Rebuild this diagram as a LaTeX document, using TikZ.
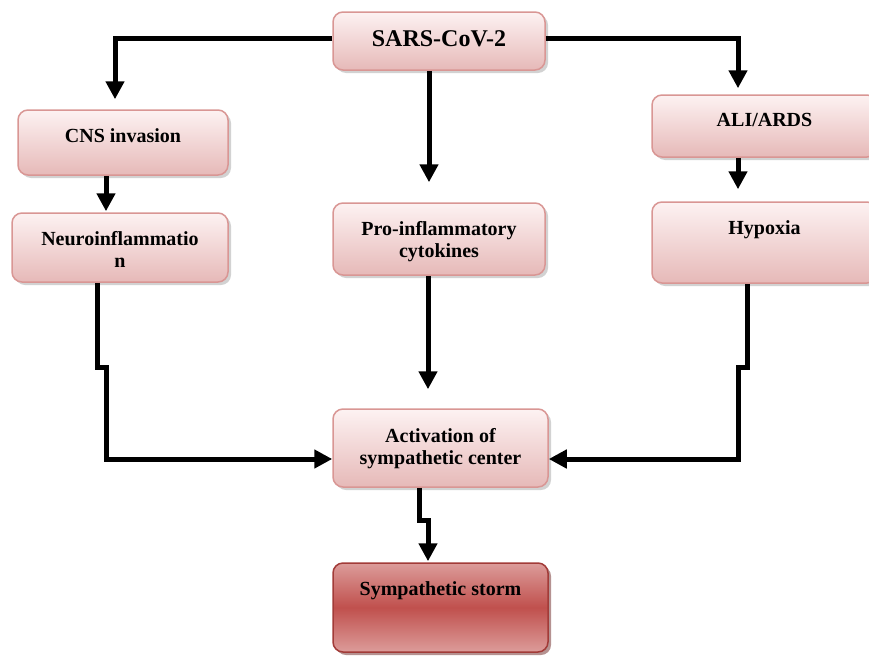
\documentclass[tikz,border=0pt]{standalone}
\usepackage{fontspec}
\setmainfont{Liberation Serif}
\usetikzlibrary{positioning,shadows,arrows.meta}

\definecolor{pinktop}{HTML}{FDF2F2}
\definecolor{pinkbot}{HTML}{E6B9B8}
\definecolor{pinkedge}{HTML}{D99694}
\definecolor{stormtop}{HTML}{DC9C9A}
\definecolor{stormmid}{HTML}{C0504D}
\definecolor{stormedge}{HTML}{A23B38}
\definecolor{stormshade}{HTML}{6B2624}

\begin{document}
\begin{tikzpicture}[x=1pt,y=-1pt]
				\tikzstyle{Box}		= [rounded corners=10pt, line width=1.5pt, inner sep=0pt]
				\tikzstyle{Pink}	= [draw=pinkedge, top color=pinktop, bottom color=pinkbot, drop shadow={shadow xshift=3pt, shadow yshift=-3pt, fill=black!35}]
				\tikzstyle{Red}		= [draw=stormedge, top color=stormtop, bottom color=stormtop, middle color=stormmid, drop shadow={shadow xshift=3pt, shadow yshift=-3pt, fill=stormshade}]
				\tikzstyle{Label}	= [inner sep=0pt, align=center, font=\fontsize{20}{22}\selectfont\bfseries]
				\tikzstyle{Link}	= [line width=5pt, -{Triangle[width=18pt,length=18pt]}]

				\useasboundingbox (0,0) rectangle (869,656);

				\node (sv) at (439, 41) [Box][Pink][minimum width=212pt, minimum height=58pt] {};
				\node [Label, font=\fontsize{24}{26}\selectfont\bfseries, below=19pt of sv.north] {SARS-CoV-2};

				\node (cn) at (123, 142.5) [Box][Pink][minimum width=210pt, minimum height=65pt] {};
				\node [Label, below=19pt of cn.north] {CNS invasion};

				\node (ni) at (120, 247.5) [Box][Pink][minimum width=216pt, minimum height=69pt] {};
				\node [Label, below=19pt of ni.north] {Neuroinflammatio\\n};

				\node (pc) at (439, 239) [Box][Pink][minimum width=212pt, minimum height=72pt] {};
				\node [Label, below=19pt of pc.north] {Pro-inflammatory\\cytokines};

				\node (aa) at (764.5, 126) [Box][Pink][minimum width=225pt, minimum height=62pt] {};
				\node [Label, below=19pt of aa.north] {ALI/ARDS};

				\node (hx) at (764.5, 242.5) [Box][Pink][minimum width=225pt, minimum height=81pt] {};
				\node [Label, below=19pt of hx.north] {Hypoxia};

				\node (as) at (440.5, 448) [Box][Pink][minimum width=215pt, minimum height=78pt] {};
				\node [Label, below=20pt of as.north] {Activation of\\sympathetic center};

				\node (ss) at (440.5, 607.5) [Box][Red][minimum width=215pt, minimum height=89pt] {};
				\node [Label, below=19pt of ss.north] {Sympathetic storm};

				% from the virus
				\draw [Link, shorten >=10pt] ([yshift=3pt]sv.west) -| ([xshift=-8pt]cn.north);
				\draw [Link, shorten >=6pt] ([yshift=3pt]sv.east) -| ([xshift=-26.5pt]aa.north);
				\draw [Link, shorten >=20pt] ([xshift=-10pt]sv.south) -- ([xshift=-10pt]pc.north);

				\draw [Link, shorten >=1pt] ([xshift=-17pt]cn.south) -- ([xshift=-17pt]cn.south |- ni.north);
				\draw [Link, shorten >=12pt] ([xshift=-26.5pt]aa.south) -- ([xshift=-26.5pt]hx.north);

				% into the sympathetic center
				\draw [Link] ([xshift=-23pt]ni.south) -- ++(0,85) -- ++(9,0) |- ([yshift=-11pt]as.west);
				\draw [Link, shorten >=19pt] ([xshift=-11pt]pc.south) -- ([xshift=-11pt]pc.south |- as.north);
				\draw [Link] ([xshift=-17.5pt]hx.south) -- ++(0,84) -- ++(-9,0) |- ([yshift=-11pt]as.east);

				\draw [Link, shorten >=1pt] ([xshift=-21.5pt]as.south) -- ++(0,33) -- ++(9,0) -- ([xshift=-12.5pt]ss.north);
\end{tikzpicture}
\end{document}
